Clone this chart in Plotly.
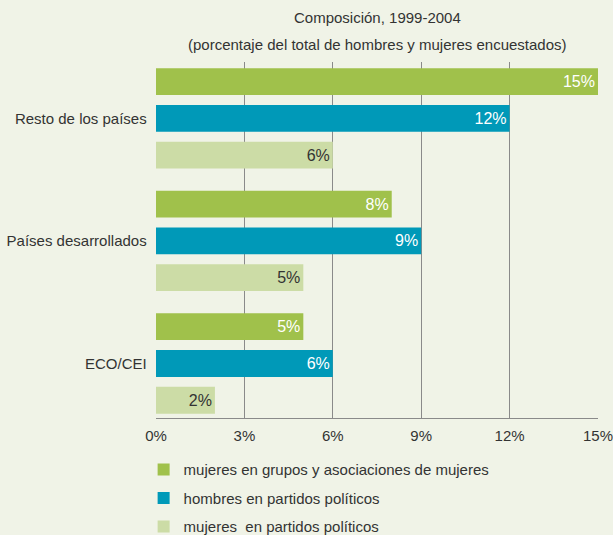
import plotly.graph_objects as go

categories = ["ECO/CEI", "Países desarrollados", "Resto de los países"]
mujeres_grupos = [5, 8, 15]
hombres_partidos = [6, 9, 12]
mujeres_partidos = [2, 5, 6]
series_names = [
    "mujeres en grupos y asociaciones de mujeres",
    "hombres en partidos políticos",
    "mujeres  en partidos políticos",
]
tick_vals = [0, 3, 6, 9, 12, 15]
tick_text = ["0%", "3%", "6%", "9%", "12%", "15%"]
title_lines = [
    "Composición, 1999-2004",
    "(porcentaje del total de hombres y mujeres encuestados)",
]

FONT = "Liberation Sans Narrow, Liberation Sans, Arial, sans-serif"
BG = "#f0f3e7"
TXT = "#333333"

fig = go.Figure()
specs = [
    (series_names[2], mujeres_partidos, "#ccdca6", TXT, 3),
    (series_names[1], hombres_partidos, "#0099b8", "white", 2),
    (series_names[0], mujeres_grupos, "#a0c14b", "white", 1),
]
for name, vals, color, tcolor, rank in specs:
    fig.add_trace(go.Bar(
        y=categories, x=vals, name=name, orientation="h", legendgroup=name,
        legendrank=rank,
        marker=dict(color=color, line=dict(width=0)),
        text=[f"{v}%" for v in vals], textposition="inside",
        insidetextanchor="end", textangle=0,
        textfont=dict(color=tcolor, size=16, family=FONT),
        hoverinfo="skip",
    ))

fig.update_layout(
    width=613, height=535,
    margin=dict(l=156, r=15, t=62, b=117, autoexpand=False),
    paper_bgcolor=BG, plot_bgcolor=BG,
    barmode="group", bargap=0.1, bargroupgap=0.27,
    font=dict(family=FONT, size=15, color=TXT),
    showlegend=True,
    legend=dict(
        traceorder="grouped", x=-0.028, y=-0.099, xanchor="left", yanchor="top",
        bgcolor="rgba(0,0,0,0)", font=dict(size=15, color=TXT, family=FONT),
        tracegroupgap=6, itemwidth=30,
    ),
    xaxis=dict(
        range=[0, 15], tickvals=tick_vals, ticktext=tick_text,
        showgrid=True, gridcolor="#8a8a8a", gridwidth=1,
        showline=True, linecolor="#8a8a8a", linewidth=1,
        zeroline=False, ticks="", fixedrange=True, ticklabeloverflow="allow",
        ticklabelstandoff=4,
        tickfont=dict(size=15, color=TXT),
    ),
    yaxis=dict(
        range=[-0.445, 2.46], showgrid=False, zeroline=False,
        showline=False, ticks="", ticksuffix="  ", fixedrange=True,
        tickfont=dict(size=15, color=TXT),
    ),
    annotations=[
        dict(text=title_lines[0], x=0.5, y=18, xref="paper", yref="paper",
             xanchor="center", yanchor="middle", showarrow=False,
             font=dict(size=15, color=TXT, family=FONT)),
        dict(text=title_lines[1], x=0.5, y=44, xref="paper", yref="paper",
             xanchor="center", yanchor="middle", showarrow=False,
             font=dict(size=15, color=TXT, family=FONT)),
    ],
)
# convert title pixel rows to paper coordinates
plot_h = 535 - 62 - 117
for ann in fig.layout.annotations:
    ann.y = 1 + (62 - ann.y) / plot_h

fig.write_html("out.html", config={"displayModeBar": False},
               post_script="document.body.style.margin='0';")
